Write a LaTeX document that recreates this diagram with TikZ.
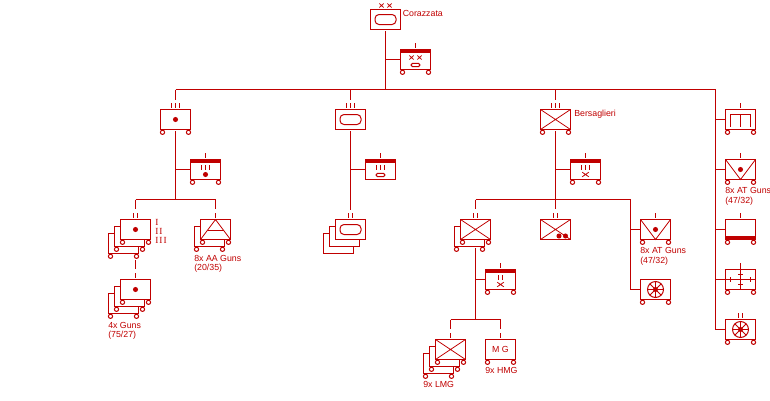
\documentclass[tikz,border=0pt]{standalone}
\usepackage{fontspec}
\setmainfont{Liberation Sans}
\newfontfamily\romf[LetterSpace=12]{Liberation Serif}
\definecolor{ink}{HTML}{C00000}
\tikzset{
  unitbox/.style={draw=ink,fill=white,line width=.75pt,minimum width=22.5pt,minimum height=15pt,inner sep=0pt,outer sep=0pt},
  conn/.style={draw=ink,line width=.75pt},
  sym/.style={draw=ink,line width=.75pt},
  thin sym/.style={draw=ink,line width=.6pt},
  wheel/.style={draw=ink,line width=.75pt,fill=white},
  lbl/.style={text=ink,font=\fontsize{6.6pt}{7.2pt}\selectfont,inner sep=0pt,anchor=base west},
}
\newcommand\whl[1]{\path[wheel] ([shift={(-13,2.8)}]#1.south) circle[radius=1.6pt] ([shift={(13,2.8)}]#1.south) circle[radius=1.6pt];}
\newcommand\tks[2]{\foreach \d in {#2}{\draw[sym] ([shift={(\d,-6.5)}]#1.north) -- +(0,5);}}
\newcommand\inticks[3]{\foreach \d in {#3}{\draw[sym] ([shift={(\d,#2)}]#1.center) -- +(0,5);}}
\newcommand\hqbar[1]{\fill[ink] ([shift={(0,0)}]#1.north west) rectangle ([shift={(0,3.5)}]#1.north east);}
\newcommand\crs[1]{\draw[thin sym] (#1.north west) -- (#1.south east) (#1.north east) -- (#1.south west);}
\newcommand\ovl[1]{\draw[sym,rounded corners=3pt] ([shift={(-10.5,-5)}]#1.center) rectangle ([shift={(10.5,5)}]#1.center);}
\newcommand\sovl[2]{\draw[sym,rounded corners=1pt] ([shift={(-4.3,#2-1.7)}]#1.center) rectangle ([shift={(4.3,#2+1.7)}]#1.center);}
\newcommand\dotm[3]{\fill[ink] ([shift={(#2,#3)}]#1.center) circle[radius=1.9pt];}
\newcommand\xm[3]{\draw[thin sym] ([shift={(#2-3.3,#3-2.3)}]#1.center) -- ([shift={(#2+3.3,#3+2.3)}]#1.center) ([shift={(#2+3.3,#3-2.3)}]#1.center) -- ([shift={(#2-3.3,#3+2.3)}]#1.center);}
\newcommand\xs[3]{\draw[thin sym] ([shift={(#2-2.2,#3-2)}]#1.center) -- ([shift={(#2+2.2,#3+2)}]#1.center) ([shift={(#2+2.2,#3-2)}]#1.center) -- ([shift={(#2-2.2,#3+2)}]#1.center);}
\newcommand\veesym[1]{\draw[thin sym] (#1.north west) -- (#1.south) -- (#1.north east);}
\newcommand\wh[1]{\draw[sym] (#1.center) circle[radius=6pt];
  \foreach \a in {0,45,...,315}{\draw[thin sym] (#1.center) -- ++(\a:6pt);}
  \dotm{#1}{0}{0}}
\begin{document}
\begin{tikzpicture}[x=.75pt,y=-.75pt]
\useasboundingbox (0,0) rectangle (770,400);
% bus coordinates
\coordinate (busA) at (385.5,89.5);
\coordinate (busR) at (715.5,89.5);
\coordinate (busB) at (175.5,199.5);
\coordinate (busC) at (555.5,199.5);
\coordinate (busCr) at (630.5,199.5);
\coordinate (busD) at (475.5,319.5);

% units
\node[unitbox] (top) at (385.5,19.5) {};
\node[unitbox] (hq) at (415.5,59.5) {};
\node[unitbox] (inf) at (175.5,119.5) {};
\node[unitbox] (infhq) at (205.5,169.5) {};
\node[unitbox] (infc) at (123.5,243.5) {};
\node[unitbox] (infb) at (129.5,236.5) {};
\node[unitbox] (infa) at (135.5,229.5) {};
\node[unitbox] (gunc) at (123.5,303.5) {};
\node[unitbox] (gunb) at (129.5,296.5) {};
\node[unitbox] (guna) at (135.5,289.5) {};
\node[unitbox] (aab) at (209.5,236.5) {};
\node[unitbox] (aaa) at (215.5,229.5) {};
\node[unitbox] (arm) at (350.5,119.5) {};
\node[unitbox] (armhq) at (380.5,169.5) {};
\node[unitbox] (armc) at (338.5,243.5) {};
\node[unitbox] (armb) at (344.5,236.5) {};
\node[unitbox] (arma) at (350.5,229.5) {};
\node[unitbox] (ber) at (555.5,119.5) {};
\node[unitbox] (berhq) at (585.5,169.5) {};
\node[unitbox] (bb) at (469.5,236.5) {};
\node[unitbox] (ba) at (475.5,229.5) {};
\node[unitbox] (bmor) at (555.5,229.5) {};
\node[unitbox] (bat) at (655.5,229.5) {};
\node[unitbox] (bwh) at (655.5,289.5) {};
\node[unitbox] (bahq) at (500.5,279.5) {};
\node[unitbox] (lmgc) at (438.5,363.5) {};
\node[unitbox] (lmgb) at (444.5,356.5) {};
\node[unitbox] (lmga) at (450.5,349.5) {};
\node[unitbox] (hmg) at (500.5,349.5) {};
\node[unitbox] (rone) at (740.5,119.5) {};
\node[unitbox] (rtwo) at (740.5,169.5) {};
\node[unitbox] (rthree) at (740.5,229.5) {};
\node[unitbox] (rfour) at (740.5,279.5) {};
\node[unitbox] (rfive) at (740.5,329.5) {};

% connectors
\draw[conn] ([shift={(0,1.5)}]top.south) -- (busA);
\draw[conn] (top.south |- hq.west) -- (hq.west);
\draw[conn] (inf.north |- busA) -- (busR);
\draw[conn] (busR) |- (rfive.west);
\draw[conn] (busR |- rone.west) -- (rone.west);
\draw[conn] (busR |- rtwo.west) -- (rtwo.west);
\draw[conn] (busR |- rthree.west) -- (rthree.west);
\draw[conn] (busR |- rfour.west) -- (rfour.west);
\draw[conn] (inf.north |- busA) -- ([shift={(0,-9.5)}]inf.north);
\draw[conn] (arm.north |- busA) -- ([shift={(0,-9.5)}]arm.north);
\draw[conn] (ber.north |- busA) -- ([shift={(0,-9.5)}]ber.north);
\draw[conn] ([shift={(0,1.5)}]inf.south) -- (busB);
\draw[conn] (busB |- infhq.west) -- (infhq.west);
\draw[conn] (infa.north |- busB) -- (aaa.north |- busB);
\draw[conn] (infa.north |- busB) -- ([shift={(0,-10.5)}]infa.north);
\draw[conn] (aaa.north |- busB) -- ([shift={(0,-10.5)}]aaa.north);
\draw[conn] ([shift={(0,20.5)}]infa.south) -- ([shift={(0,-11)}]guna.north);
\draw[conn] ([shift={(0,1.5)}]arm.south) -- ([shift={(0,-9.5)}]arma.north);
\draw[conn] (arm.north |- armhq.west) -- (armhq.west);
\draw[conn] ([shift={(0,1.5)}]ber.south) -- ([shift={(0,-10.5)}]bmor.north);
\draw[conn] (ber.north |- berhq.west) -- (berhq.west);
\draw[conn] (ba.north |- busC) -- (busCr);
\draw[conn] (ba.north |- busC) -- ([shift={(0,-10.5)}]ba.north);
\draw[conn] (busCr) |- (bwh.west);
\draw[conn] (busCr |- bat.west) -- (bat.west);
\draw[conn] ([shift={(0,8.5)}]ba.south) -- (busD);
\draw[conn] (busD |- bahq.west) -- (bahq.west);
\draw[conn] (lmga.north |- busD) -- (hmg.north |- busD);
\draw[conn] (lmga.north |- busD) -- ([shift={(0,-11)}]lmga.north);
\draw[conn] (hmg.north |- busD) -- ([shift={(0,-11)}]hmg.north);

% ticks above boxes
\tks{hq}{0}
\tks{inf}{-4,0,4}
\tks{infhq}{0}
\tks{infa}{-2,2}
\tks{guna}{0}
\tks{aaa}{0}
\tks{arm}{-4,0,4}
\tks{armhq}{0}
\tks{arma}{-2,2}
\tks{ber}{-4,0,4}
\tks{berhq}{0}
\tks{ba}{-2,2}
\tks{bmor}{-2,2}
\tks{bat}{0}
\tks{bahq}{0}
\tks{lmga}{0}
\tks{hmg}{0}
\tks{rone}{0}
\tks{rtwo}{0}
\tks{rthree}{0}
\tks{rfour}{0}
\tks{rfive}{-2,2}
\xs{top}{-4}{-14}
\xs{top}{4}{-14}

% bars
\hqbar{hq}\hqbar{infhq}\hqbar{armhq}\hqbar{berhq}\hqbar{bahq}
\fill[ink] ([shift={(0,-3.5)}]rthree.south west) rectangle (rthree.south east);

% symbols
\ovl{top}\ovl{arm}\ovl{arma}
\xs{hq}{-4}{-2}\xs{hq}{4}{-2}\sovl{hq}{5.5}
\inticks{infhq}{-4.5}{-4,0,4}\dotm{infhq}{0}{5}
\dotm{inf}{0}{0}\dotm{infa}{0}{0}\dotm{guna}{0}{0}
\draw[thin sym] (aaa.south west) -- (aaa.north) -- (aaa.south east);
\draw[thin sym] ([shift={(-8,1)}]aaa.center) -- ([shift={(8,1)}]aaa.center);
\inticks{armhq}{-4.5}{-4,0,4}\sovl{armhq}{5.5}
\crs{ber}
\inticks{berhq}{-4.5}{-4,0,4}\xm{berhq}{0}{5}
\crs{ba}\crs{bmor}
\inticks{bahq}{-4.5}{-2,2}\xm{bahq}{0}{5}
\dotm{bmor}{3.5}{6.5}\dotm{bmor}{10}{6.5}
\veesym{bat}\dotm{bat}{0}{0}
\wh{bwh}
\crs{lmga}
\veesym{rtwo}\dotm{rtwo}{0}{0}
\draw[sym] ([shift={(-10,7)}]rone.center) |- ([shift={(10,-5)}]rone.center) -- ([shift={(10,7)}]rone.center);
\draw[sym] ([shift={(0,-5)}]rone.center) -- ([shift={(0,7)}]rone.center);
\draw[sym] ([shift={(0,-6.5)}]rfour.north) -- (rfour.south);
\draw[sym] (rfour.west) -- (rfour.east);
\draw[sym] ([shift={(-2.5,-5)}]rfour.center) -- +(5,0) ([shift={(-2.5,5)}]rfour.center) -- +(5,0);
\draw[sym] ([shift={(-10,-2.5)}]rfour.center) -- +(0,5) ([shift={(10,-2.5)}]rfour.center) -- +(0,5);
\wh{rfive}

% wheels
\whl{hq}\whl{inf}\whl{infhq}\whl{infc}\whl{infb}\whl{infa}\whl{gunc}\whl{gunb}\whl{guna}
\whl{aab}\whl{aaa}\whl{ber}\whl{berhq}\whl{bb}\whl{ba}\whl{bat}\whl{bwh}\whl{bahq}
\whl{lmgc}\whl{lmgb}\whl{lmga}\whl{hmg}\whl{rone}\whl{rtwo}\whl{rthree}\whl{rfour}\whl{rfive}

% labels
\node[lbl] (tCor) at (402.5,16) {Corazzata};
\node[lbl] (tBer) at (574,116) {Bersaglieri};
\node[text=ink,inner sep=0pt,anchor=base west,font=\fontsize{7pt}{6.75pt}\selectfont\romf] (tRom) at (155,225) {\vtop{\hbox{I}\hbox{II}\hbox{III}}};
\node[lbl] (tAA) at (194,261) {\vtop{\hbox{8x AA Guns}\hbox{(20/35)}}};
\node[lbl] (tGun) at (108,328) {\vtop{\hbox{4x Guns}\hbox{(75/27)}}};
\node[lbl] (tAT) at (640,253.5) {\vtop{\hbox{8x AT Guns}\hbox{(47/32)}}};
\node[lbl] (tAT2) at (725,193.5) {\vtop{\hbox{8x AT Guns}\hbox{(47/32)}}};
\node[lbl] (tLMG) at (423,387.5) {9x LMG};
\node[lbl] (tHMG) at (485,373.5) {9x HMG};
\node[text=ink,inner sep=0pt,font=\fontsize{6.6pt}{7.2pt}\selectfont] (tMG) at (hmg.center) {M G};
\end{tikzpicture}
\end{document}
